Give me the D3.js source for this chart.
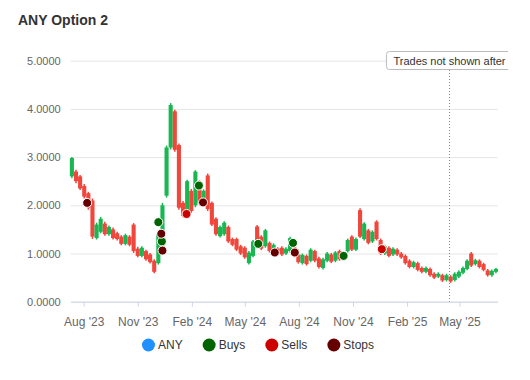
<!DOCTYPE html>
<html>
<head>
<meta charset="utf-8">
<script src="https://cdnjs.cloudflare.com/ajax/libs/d3/7.8.5/d3.min.js"></script>
<style>
  body { margin: 0; background: #fff; }
  svg { display: block; font-family: "Liberation Sans", Arial, sans-serif; }
</style>
</head>
<body>
<svg id="chart" width="530" height="380"></svg>
<script>
// weekly candles, first one on Jul 12 2023
var firstWeek = '2023-07-12';
var opens = [2.60,2.70,2.60,2.40,2.25,2.10,1.32,1.45,1.62,1.40, 1.50,1.42,1.35,1.20,1.35,1.60,1.10,0.95,1.05,0.98,
  0.85,0.80,1.10,2.20,3.20,3.95,3.25,2.05,1.85,2.30, 2.00,2.48,2.05,2.62,2.05,1.72,1.36,1.40,1.55,1.30,
  1.30,1.15,1.12,0.80,0.95,1.56,1.35,1.15,1.22,1.05, 1.10,1.12,1.00,1.05,1.22,0.98,0.80,0.95,0.85,1.05,
  0.90,0.70,0.85,0.98,0.85,1.05,0.90,1.05,1.35,1.08, 1.90,1.30,1.48,1.25,1.66,1.28,1.00,1.12,0.98,1.08,
  1.00,0.95,0.85,0.72,0.80,0.70,0.62,0.68,0.58,0.52, 0.55,0.45,0.52,0.45,0.52,0.60,0.68,1.00,0.78,0.85,
  0.78,0.65,0.55,0.62];
var highs = [3.00,2.74,2.63,2.44,2.28,2.14,1.64,1.76,1.66,1.58, 1.54,1.45,1.38,1.41,1.38,1.63,1.14,1.15,1.08,1.01,
  0.88,1.44,2.05,3.24,4.12,3.98,3.28,2.09,2.53,2.34, 2.73,2.52,2.33,2.66,2.08,1.75,1.58,1.67,1.58,1.33,
  1.33,1.18,1.15,1.05,1.28,1.59,1.38,1.51,1.25,1.21, 1.13,1.15,1.13,1.35,1.25,1.01,1.00,0.98,1.11,1.08,
  0.93,0.91,1.03,1.01,1.05,1.08,1.05,1.31,1.38,1.33, 1.94,1.65,1.51,1.48,1.69,1.31,1.18,1.15,1.13,1.11,
  1.03,0.98,0.88,0.85,0.83,0.73,0.73,0.71,0.61,0.61, 0.58,0.58,0.55,0.61,0.65,0.73,0.88,1.03,0.89,0.88,
  0.81,0.68,0.67,0.70];
var lows = [2.56,2.46,2.32,2.14,1.91,1.30,1.29,1.42,1.37,1.37, 1.29,1.27,1.17,1.17,1.15,1.01,0.92,0.92,0.85,0.79,
  0.59,0.77,1.06,2.16,3.16,3.11,1.91,1.75,1.82,1.84, 1.96,2.01,2.01,1.88,1.57,1.37,1.33,1.37,1.22,1.15,
  1.05,0.97,0.89,0.77,0.92,1.12,1.07,1.12,1.02,1.02, 0.97,0.95,0.97,1.02,0.92,0.79,0.77,0.75,0.82,0.82,
  0.69,0.67,0.82,0.80,0.82,0.85,0.87,1.02,1.05,1.05, 1.32,1.27,1.19,1.22,1.27,0.97,0.97,0.92,0.95,0.95,
  0.89,0.77,0.69,0.69,0.63,0.59,0.59,0.52,0.47,0.49, 0.41,0.42,0.39,0.42,0.49,0.57,0.65,0.72,0.75,0.69,
  0.63,0.52,0.52,0.59];
var closes = [2.98,2.50,2.35,2.18,1.95,1.35,1.60,1.72,1.40,1.55, 1.32,1.30,1.20,1.38,1.18,1.05,0.95,1.12,0.88,0.82,
  0.62,1.40,2.00,3.20,4.08,3.15,1.95,1.78,2.50,1.88, 2.70,2.05,2.30,1.92,1.60,1.40,1.55,1.64,1.25,1.18,
  1.08,1.00,0.92,1.02,1.25,1.15,1.10,1.48,1.05,1.18, 1.00,0.98,1.10,1.32,0.95,0.82,0.97,0.78,1.08,0.85,
  0.72,0.88,1.00,0.83,1.02,0.88,1.02,1.28,1.08,1.30, 1.35,1.62,1.22,1.45,1.30,1.00,1.15,0.95,1.10,0.98,
  0.92,0.80,0.72,0.82,0.66,0.62,0.70,0.55,0.50,0.58, 0.44,0.55,0.42,0.58,0.62,0.70,0.85,0.75,0.86,0.72,
  0.66,0.55,0.64,0.68];

// trades
var buyDates = ['2023-12-06','2023-12-12','2024-02-13','2024-05-24','2024-07-22','2024-10-16'];
var buyPrices = [1.65, 1.25, 2.41, 1.20, 1.22, 0.95];
var sellDates = ['2024-01-23','2024-12-20'];
var sellPrices = [1.82, 1.09];
var stopDates = ['2023-08-07','2023-12-11','2023-12-13','2024-02-20','2024-06-21','2024-07-25'];
var stopPrices = [2.05, 1.41, 1.06, 2.06, 1.02, 1.02];

var cutoffDate = '2025-04-13';
var xTickDates = ['2023-08-01','2023-11-01','2024-02-01','2024-05-01','2024-08-01','2024-11-01','2025-02-01','2025-05-01'];
var yTicks = [0, 1, 2, 3, 4, 5];

var legendNames = ['ANY', 'Buys', 'Sells', 'Stops'];
var legendColors = ['#1e90ff', '#006400', '#cc0000', '#660000'];

var parse = d3.timeParse('%Y-%m-%d');
var svg = d3.select('#chart');

var plot = {l: 70.7, r: 497.7, t: 60.7, b: 301.7};

var x = d3.scaleTime()
    .domain([parse('2023-07-10'), parse('2025-07-05')])
    .range([plot.l, plot.r]);
var y = d3.scaleLinear()
    .domain([0, 5])
    .range([plot.b, plot.t]);

// title
svg.append('text')
    .attr('x', 18).attr('y', 25)
    .attr('font-size', 14).attr('font-weight', 'bold')
    .attr('fill', '#333')
    .text('ANY Option 2');

// y axis + grid
var yAxis = svg.append('g')
    .attr('transform', 'translate(' + plot.l + ',0)')
    .call(d3.axisLeft(y).tickValues(yTicks).tickSize(-(plot.r - plot.l)).tickPadding(10)
        .tickFormat(d3.format('.4f')));
yAxis.select('.domain').remove();
yAxis.selectAll('line').attr('stroke', '#e6e6e6');
yAxis.selectAll('text').attr('fill', '#666').attr('font-size', 11).attr('font-family', null);

// x axis
var xAxis = svg.append('g')
    .attr('transform', 'translate(0,' + plot.b + ')')
    .call(d3.axisBottom(x).tickValues(xTickDates.map(parse)).tickSize(5).tickSizeOuter(0)
        .tickPadding(10.5).tickFormat(d3.timeFormat("%b '%y")));
xAxis.select('.domain').attr('stroke', '#ccd6eb');
xAxis.selectAll('line').attr('stroke', '#ccd6eb');
xAxis.selectAll('text').attr('fill', '#666').attr('font-size', 12).attr('font-family', null);

// cutoff line
var cx = Math.round(x(parse(cutoffDate))) + 0.5;
svg.append('line')
    .attr('x1', cx).attr('x2', cx)
    .attr('y1', 70).attr('y2', plot.b)
    .attr('stroke', '#7a7ae6').attr('stroke-width', 1)
    .attr('stroke-dasharray', '1,2');

// candles
var candles = opens.map(function(o, i) {
    return {date: d3.timeDay.offset(parse(firstWeek), 7 * i), o: o, h: highs[i], l: lows[i], c: closes[i]};
});
var red = '#f0463c', green = '#18b752';
var cg = svg.append('g');
cg.selectAll('line.wick')
    .data(candles).enter().append('line')
    .attr('class', 'wick')
    .attr('x1', function(d) { return x(d.date); })
    .attr('x2', function(d) { return x(d.date); })
    .attr('y1', function(d) { return y(d.h); })
    .attr('y2', function(d) { return y(d.l); })
    .attr('stroke', function(d) { return d.c >= d.o ? green : red; })
    .attr('stroke-width', 1.5);
var bw = 4.1;
cg.selectAll('rect.body')
    .data(candles).enter().append('rect')
    .attr('class', 'body')
    .attr('x', function(d) { return x(d.date) - bw / 2; })
    .attr('width', bw)
    .attr('y', function(d) { return y(Math.max(d.o, d.c)); })
    .attr('height', function(d) { return Math.max(1, Math.abs(y(d.o) - y(d.c))); })
    .attr('fill', function(d) { return d.c >= d.o ? green : red; });

// trade markers
function drawTrades(dates, prices, color) {
    svg.append('g').selectAll('circle')
        .data(dates.map(function(d, i) { return {date: parse(d), p: prices[i]}; }))
        .enter().append('circle')
        .attr('cx', function(d) { return x(d.date); })
        .attr('cy', function(d) { return y(d.p); })
        .attr('r', 4.5)
        .attr('fill', color)
        .attr('stroke', '#fff').attr('stroke-width', 1);
}
drawTrades(buyDates, buyPrices, legendColors[1]);
drawTrades(sellDates, sellPrices, legendColors[2]);
drawTrades(stopDates, stopPrices, legendColors[3]);

// cutoff label (clipped at the container edge)
svg.append('clipPath').attr('id', 'labelClip')
    .append('rect').attr('x', 0).attr('y', 0).attr('width', 508).attr('height', 380);
var lab = svg.append('g').attr('clip-path', 'url(#labelClip)');
var labRect = lab.append('rect');
var labText = lab.append('text')
    .attr('y', 65).attr('font-size', 11).attr('fill', '#333')
    .attr('text-anchor', 'middle').attr('x', cx)
    .text('Trades not shown after');
var tw = labText.node().getComputedTextLength();
labRect.attr('x', cx - tw / 2 - 7).attr('y', 51.5)
    .attr('width', tw + 14).attr('height', 18)
    .attr('rx', 3)
    .attr('fill', '#fff').attr('stroke', '#bbb').attr('stroke-width', 1);

// legend
var legend = svg.append('g');
var lx = 0;
legendNames.forEach(function(name, i) {
    var item = legend.append('g').attr('transform', 'translate(' + lx + ',0)');
    item.append('circle').attr('cx', 6.5).attr('cy', 345).attr('r', 6.5).attr('fill', legendColors[i]);
    var t = item.append('text').attr('x', 16).attr('y', 349)
        .attr('font-size', 12).attr('fill', '#333').text(name);
    lx += 16 + t.node().getComputedTextLength() + 20;
});
var legendW = lx - 20;
legend.attr('transform', 'translate(' + (258 - legendW / 2) + ',0)');
</script>
</body>
</html>
